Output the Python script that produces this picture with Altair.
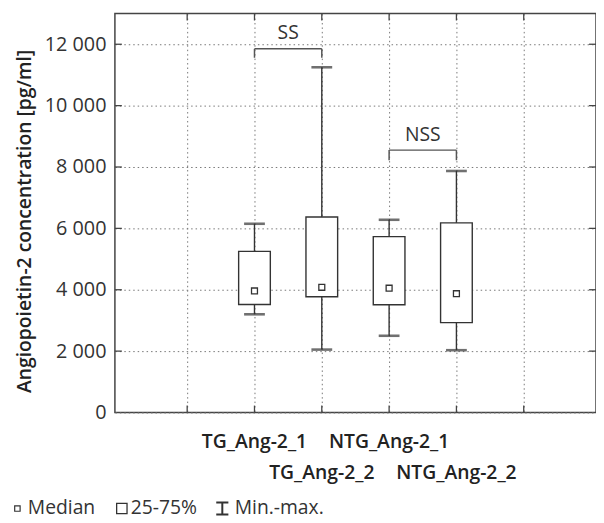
import altair as alt
import pandas as pd

# ---- data ----
categories = ["TG_Ang-2_1", "TG_Ang-2_2", "NTG_Ang-2_1", "NTG_Ang-2_2"]
positions = [2, 3, 4, 5]
label_rows = [1, 2, 1, 2]
mins = [3200, 2050, 2500, 2030]
q1s = [3520, 3770, 3510, 2930]
medians = [3960, 4080, 4050, 3870]
q3s = [5250, 6370, 5730, 6180]
maxs = [6150, 11250, 6280, 7870]

bracket_labels = ["SS", "NSS"]
bracket_x1 = [2, 4]
bracket_x2 = [3, 5]
bracket_top = [11850, 8550]
bracket_drop = [11560, 8220]
bracket_text_y = [12380, 9030]

y_ticks = [0, 2000, 4000, 6000, 8000, 10000, 12000]
x_grid = [1, 2, 3, 4, 5, 6]
y_title = "Angiopoietin-2 concentration [pg/ml]"
legend_labels = ["Median", "25-75%", "Min.-max."]

W, H = 486, 403
FONT = "Open Sans"
TXT = "#333333"
LINE = "#333333"
FS = 19.5

df = pd.DataFrame({"cat": categories, "pos": positions, "row": label_rows,
                   "min": mins, "q1": q1s, "med": medians, "q3": q3s, "max": maxs})
br = pd.DataFrame({"label": bracket_labels, "x1": bracket_x1, "x2": bracket_x2,
                   "top": bracket_top, "drop": bracket_drop, "ty": bracket_text_y})
br["xm"] = (br["x1"] + br["x2"]) / 2

xs = alt.Scale(domain=[0, 7], nice=False, zero=False)
ys = alt.Scale(domain=[0, 13000], nice=False)

x_axis = alt.Axis(values=x_grid, grid=True, gridDash=[1.5, 3], gridColor="#777777",
                  gridWidth=1, domain=False, ticks=False, labels=False, title=None)
y_axis = alt.Axis(values=y_ticks, grid=True, gridDash=[1.5, 3], gridColor="#777777",
                  gridWidth=1, domain=False, ticks=False,
                  labelExpr="replace(format(datum.value, ','), ',', ' ')",
                  labelFont=FONT, labelFontSize=20, labelColor=TXT, labelPadding=9,
                  title=None)


def X(f):
    return alt.X(f, scale=xs, axis=x_axis)


def Y(f):
    return alt.Y(f, scale=ys, axis=y_axis)


base = alt.Chart(df)

box = base.mark_bar(size=32, fill="white", stroke=LINE, strokeWidth=1.4).encode(
    x=X("pos:Q"), y=Y("q1:Q"), y2="q3:Q")
lower_whisker = base.mark_rule(color=LINE, strokeWidth=1.4).encode(
    x=X("pos:Q"), y=Y("min:Q"), y2="q1:Q")
upper_whisker = base.mark_rule(color=LINE, strokeWidth=1.4).encode(
    x=X("pos:Q"), y=Y("q3:Q"), y2="max:Q")
cap_min = base.mark_tick(orient="horizontal", size=21, thickness=2.6, color=LINE).encode(
    x=X("pos:Q"), y=Y("min:Q"))
cap_max = base.mark_tick(orient="horizontal", size=21, thickness=2.6, color=LINE).encode(
    x=X("pos:Q"), y=Y("max:Q"))
med = base.mark_point(shape="square", size=36, filled=True, fill="white",
                      stroke=LINE, strokeWidth=1.3, opacity=1).encode(
    x=X("pos:Q"), y=Y("med:Q"))

# staggered category labels below the plot
lab_kw = dict(font=FONT, fontSize=FS, fontWeight=600, color="#222222",
              align="center", baseline="middle")
lab1 = base.transform_filter("datum.row == 1").mark_text(**lab_kw).encode(
    x=X("pos:Q"), y=alt.value(H + 30), text="cat:N")
lab2 = base.transform_filter("datum.row == 2").mark_text(**lab_kw).encode(
    x=X("pos:Q"), y=alt.value(H + 61), text="cat:N")

bc = alt.Chart(br)
br_h = bc.mark_rule(color="#555555", strokeWidth=1.5).encode(
    x=X("x1:Q"), x2="x2:Q", y=Y("top:Q"))
br_l = bc.mark_rule(color="#555555", strokeWidth=1.5).encode(
    x=X("x1:Q"), y=Y("drop:Q"), y2="top:Q")
br_r = bc.mark_rule(color="#555555", strokeWidth=1.5).encode(
    x=X("x2:Q"), y=Y("drop:Q"), y2="top:Q")
br_t = bc.mark_text(font=FONT, fontSize=FS, color=TXT, baseline="middle").encode(
    x=X("xm:Q"), y=Y("ty:Q"), text="label:N")

# inward tick marks on the frame
xt = alt.Chart(pd.DataFrame({"xv": x_grid}))
yt = alt.Chart(pd.DataFrame({"yv": y_ticks[1:]}))
tk = dict(color="#444444", strokeWidth=1.3)
t_bottom = xt.mark_rule(**tk).encode(x=X("xv:Q"), y=alt.value(H), y2=alt.value(H - 7))
t_top = xt.mark_rule(**tk).encode(x=X("xv:Q"), y=alt.value(0), y2=alt.value(7))
t_left = yt.mark_rule(**tk).encode(y=Y("yv:Q"), x=alt.value(0), x2=alt.value(7))
t_right = yt.mark_rule(**tk).encode(y=Y("yv:Q"), x=alt.value(W), x2=alt.value(W - 7))

one = alt.Chart(pd.DataFrame({"a": [0]}))

# y-axis title
ytitle = one.mark_text(font=FONT, fontSize=FS, fontWeight=600, color="#222222",
                       angle=270, align="center", baseline="alphabetic",
                       text=y_title).encode(x=alt.value(-85), y=alt.value(210))

# legend below the plot
leg_y = 500
lg_small = one.mark_point(shape="square", size=30, filled=True, fill="white",
                          stroke=LINE, strokeWidth=1.2, opacity=1).encode(
    x=alt.value(-98.5), y=alt.value(leg_y))
lg_box = one.mark_point(shape="square", size=110, filled=True, fill="white",
                        stroke=LINE, strokeWidth=1.3, opacity=1).encode(
    x=alt.value(7), y=alt.value(leg_y))
lg_ibeam = one.mark_point(shape="M-1,-1H1M0,-1V1M-1,1H1", size=150, filled=False,
                          stroke=LINE, strokeWidth=2, opacity=1).encode(
    x=alt.value(108.5), y=alt.value(leg_y))
lg_texts = [
    one.mark_text(font=FONT, fontSize=FS, color=TXT, align="left",
                  baseline="middle", text=t).encode(x=alt.value(px), y=alt.value(leg_y))
    for t, px in zip(legend_labels, [-88, 16, 121])
]

chart = alt.layer(
    box, lower_whisker, upper_whisker, cap_min, cap_max, med,
    br_h, br_l, br_r, br_t, lab1, lab2,
    t_bottom, t_top, t_left, t_right,
    ytitle, lg_small, lg_box, lg_ibeam, *lg_texts,
).properties(
    width=W, height=H,
    padding={"left": 108, "top": 3, "right": 0, "bottom": 108},
    autosize=alt.AutoSizeParams(type="none"),
    background="white",
).configure_view(stroke="#444444", strokeWidth=1.5)

chart.save("out.html", embed_options={"renderer": "svg", "actions": False})
